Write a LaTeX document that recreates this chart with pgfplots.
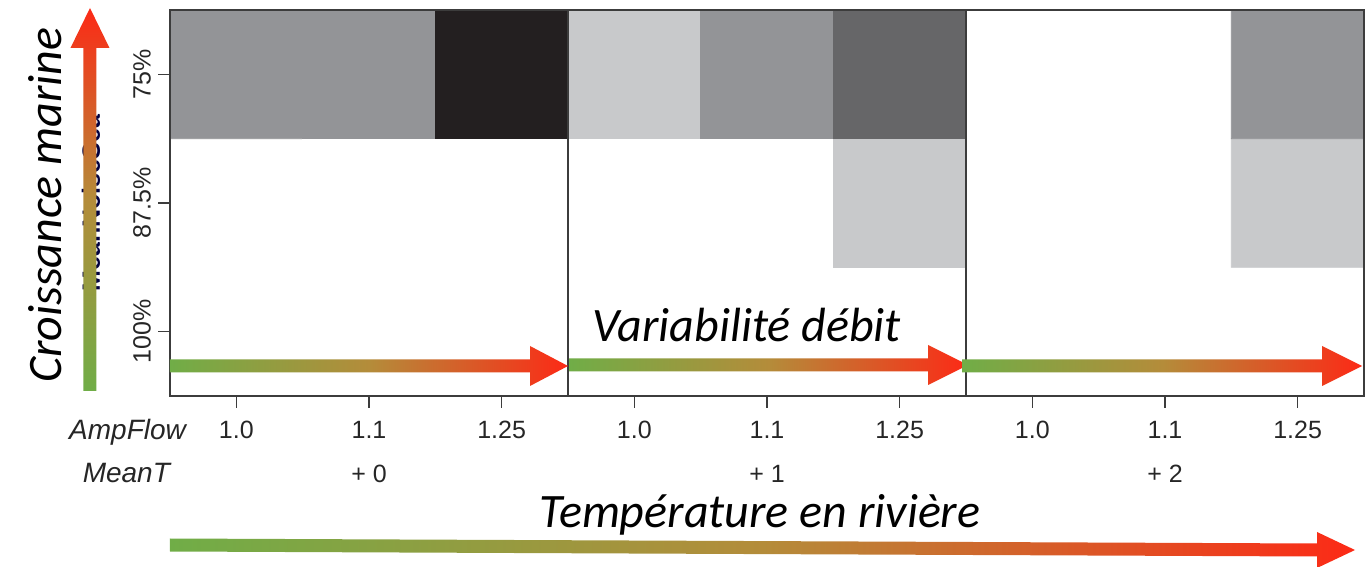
\documentclass[border=0pt]{standalone}
\usepackage{fontspec}
\setmainfont{Liberation Sans}
\newfontfamily\calibri{Carlito}
\usepackage{pgfplots}
\pgfplotsset{compat=1.18}

\definecolor{frame}{RGB}{60,60,60}
\definecolor{arrGreen}{RGB}{112,173,71}
\definecolor{arrMid}{RGB}{180,140,58}
\definecolor{arrRed}{RGB}{252,42,22}

\begin{document}
\begin{tikzpicture}
\useasboundingbox (-85pt,-85.5pt) rectangle (597.5pt,198pt);
\begin{axis}[
    at={(0pt,0pt)}, anchor=south west,
    scale only axis, width=597pt, height=193pt,
    xmin=-0.5, xmax=8.5, ymin=-0.5, ymax=2.5,
    axis line style={draw=frame, line width=0.8pt},
    xtick={0,...,8},
    xticklabels={1.0,1.1,1.25,1.0,1.1,1.25,1.0,1.1,1.25},
    ytick={0,1,2},
    yticklabels={100\%,87.5\%,75\%},
    xtick pos=left, ytick pos=left,
    tick align=outside, major tick length=6pt,
    tick style={draw=frame, line width=0.8pt},
    ticklabel style={font=\fontsize{12.5}{14}\selectfont, text=black!85},
    xticklabel style={yshift=-3pt},
    yticklabel style={rotate=90, anchor=south},
    colormap={cells}{rgb255=(255,255,255) rgb255=(200,201,203)
        rgb255=(147,148,151) rgb255=(102,102,104) rgb255=(35,31,32)},
    point meta min=0, point meta max=4,
    axis on top,
]
% 0 white, 1 light grey, 2 grey, 3 dark grey, 4 black
\addplot[matrix plot*, shader=flat corner, mesh/cols=9, point meta=explicit]
  table[meta=c] {
x y c
0 0 0
1 0 0
2 0 0
3 0 0
4 0 0
5 0 0
6 0 0
7 0 0
8 0 0
0 1 0
1 1 0
2 1 0
3 1 0
4 1 0
5 1 1
6 1 0
7 1 0
8 1 1
0 2 2
1 2 2
2 2 4
3 2 1
4 2 2
5 2 3
6 2 0
7 2 0
8 2 2
};
\draw[frame, line width=0.8pt] (axis cs:2.5,-0.5) -- (axis cs:2.5,2.5);
\draw[frame, line width=0.8pt] (axis cs:5.5,-0.5) -- (axis cs:5.5,2.5);
\end{axis}

% second row of tick labels
\node[anchor=base east, font=\itshape\fontsize{14}{16}\selectfont, text=black!85] at (11.5pt,-22pt) {AmpFlow};
\node[anchor=base east, font=\itshape\fontsize{14}{16}\selectfont, text=black!85] at (3.5pt,-43.5pt) {MeanT};
\node[anchor=base, font=\fontsize{12.5}{14}\selectfont, text=black!85] at (99.5pt,-43.5pt) {+ 0};
\node[anchor=base, font=\fontsize{12.5}{14}\selectfont, text=black!85] at (298.5pt,-43.5pt) {+ 1};
\node[anchor=base, font=\fontsize{12.5}{14}\selectfont, text=black!85] at (497.5pt,-43.5pt) {+ 2};

% old y label, mostly hidden behind the arrow
\node[rotate=90, anchor=base, font=\bfseries\fontsize{12.5}{14}\selectfont, text=black!75!blue] at (-35pt,96.5pt) {MeanNoiseSea};

% gradient arrows
\shade[bottom color=arrGreen, top color=arrRed, middle color=arrMid]
  (-43.25pt,2.5pt) -- (-43.25pt,174pt) -- (-49.75pt,174pt) -- (-40pt,194pt)
  -- (-30.25pt,174pt) -- (-36.75pt,174pt) -- (-36.75pt,2.5pt) -- cycle;
\shade[left color=arrGreen, right color=arrRed, middle color=arrMid]
  (0pt,11.75pt) -- (180pt,11.75pt) -- (180pt,5pt) -- (199pt,15pt)
  -- (180pt,25pt) -- (180pt,18.25pt) -- (0pt,18.25pt) -- cycle;
\shade[left color=arrGreen, right color=arrRed, middle color=arrMid]
  (199.5pt,12.25pt) -- (379pt,12.25pt) -- (379pt,5.5pt) -- (399pt,15.5pt)
  -- (379pt,25.5pt) -- (379pt,18.75pt) -- (199.5pt,18.75pt) -- cycle;
\shade[left color=arrGreen, right color=arrRed, middle color=arrMid]
  (396pt,11.75pt) -- (576pt,11.75pt) -- (576pt,5pt) -- (596pt,15pt)
  -- (576pt,25pt) -- (576pt,18.25pt) -- (396pt,18.25pt) -- cycle;
\shade[left color=arrGreen, right color=arrRed, middle color=arrMid]
  (0pt,-71.25pt) -- (573.5pt,-73.75pt) -- (573.5pt,-68pt) -- (592.5pt,-77pt)
  -- (573.5pt,-86pt) -- (573.5pt,-80.25pt) -- (0pt,-77.75pt) -- cycle;

% annotations
\node[rotate=90, anchor=base, font=\calibri\itshape\fontsize{24}{28}\selectfont] at (-54pt,95.5pt) {Croissance marine};
\node[anchor=base, font=\calibri\itshape\fontsize{24}{28}\selectfont] at (288.5pt,27pt) {Variabilité débit};
\node[anchor=base, font=\calibri\itshape\fontsize{24}{28}\selectfont] at (295pt,-66pt) {Température en rivière};
\end{tikzpicture}
\end{document}
